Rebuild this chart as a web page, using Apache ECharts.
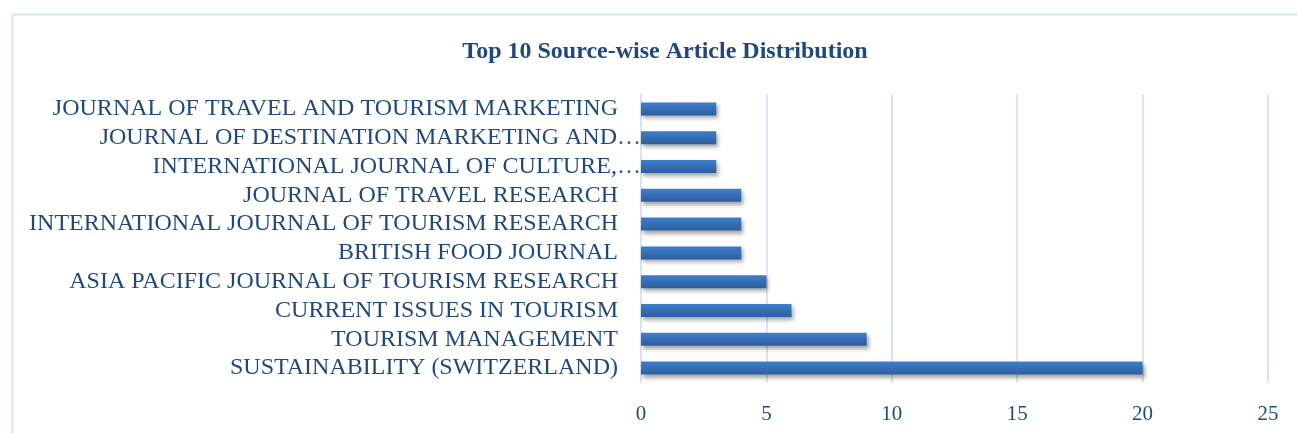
<!DOCTYPE html>
<html><head><meta charset="utf-8">
<script src="https://cdn.jsdelivr.net/npm/echarts@6/dist/echarts.min.js"></script>
<style>html,body{margin:0;padding:0;background:#fff}#c{width:1297px;height:433px}</style>
</head><body><div id="c"></div>
<script>
const categories = [
  "SUSTAINABILITY (SWITZERLAND)",
  "TOURISM MANAGEMENT",
  "CURRENT ISSUES IN TOURISM",
  "ASIA PACIFIC JOURNAL OF TOURISM RESEARCH",
  "BRITISH FOOD JOURNAL",
  "INTERNATIONAL JOURNAL OF TOURISM RESEARCH",
  "JOURNAL OF TRAVEL RESEARCH",
  "INTERNATIONAL JOURNAL OF CULTURE,…",
  "JOURNAL OF DESTINATION MARKETING AND…",
  "JOURNAL OF TRAVEL AND TOURISM MARKETING"
];
const articles = [20, 9, 6, 5, 4, 4, 4, 3, 3, 3];
const xTicks = [0, 5, 10, 15, 20, 25];

const chart = echarts.init(document.getElementById('c'));
const txt = '#1F497D';
chart.setOption({
  animation: false,
  graphic: [{
    type: 'rect', shape: {x: 12.5, y: 14.5, width: 1300, height: 430},
    style: {fill: 'none', stroke: '#D9E4F2', lineWidth: 2}, silent: true
  }],
  title: {
    text: 'Top 10 Source-wise Article Distribution',
    left: 660, top: 35, textAlign: 'center',
    textStyle: {fontFamily: 'Liberation Serif', fontWeight: 'bold', fontSize: 24, color: txt}
  },
  grid: {left: 641, right: 29, top: 94.5, bottom: 50.5, containLabel: false},
  xAxis: {
    type: 'value', min: xTicks[0], max: xTicks[xTicks.length - 1], interval: 5,
    axisLine: {show: false}, axisTick: {show: false},
    splitLine: {show: true, lineStyle: {color: '#D9E4F2', width: 2}},
    axisLabel: {fontFamily: 'Liberation Serif', fontSize: 21, color: txt, margin: 21,
      formatter: v => xTicks.includes(v) ? String(v) : ''}
  },
  yAxis: {
    type: 'category',
    data: categories.map(c => c.endsWith('…')
      ? {value: c, textStyle: {padding: [0, -23, 0, 0]}}
      : c),
    axisLine: {show: true, lineStyle: {color: '#D9E4F2', width: 2}},
    axisTick: {show: false},
    axisLabel: {fontFamily: 'Liberation Serif', fontSize: 24, color: txt, margin: 23, interval: 0}
  },
  series: [{
    type: 'bar', data: articles, barWidth: 13,
    itemStyle: {
      color: new echarts.graphic.LinearGradient(0, 0, 0, 1, [
        {offset: 0, color: '#3F7DCB'}, {offset: 1, color: '#2C5F9E'}
      ]),
      shadowColor: 'rgba(0,0,0,0.35)', shadowBlur: 4, shadowOffsetX: 2, shadowOffsetY: 3
    }
  }]
});
</script></body></html>
